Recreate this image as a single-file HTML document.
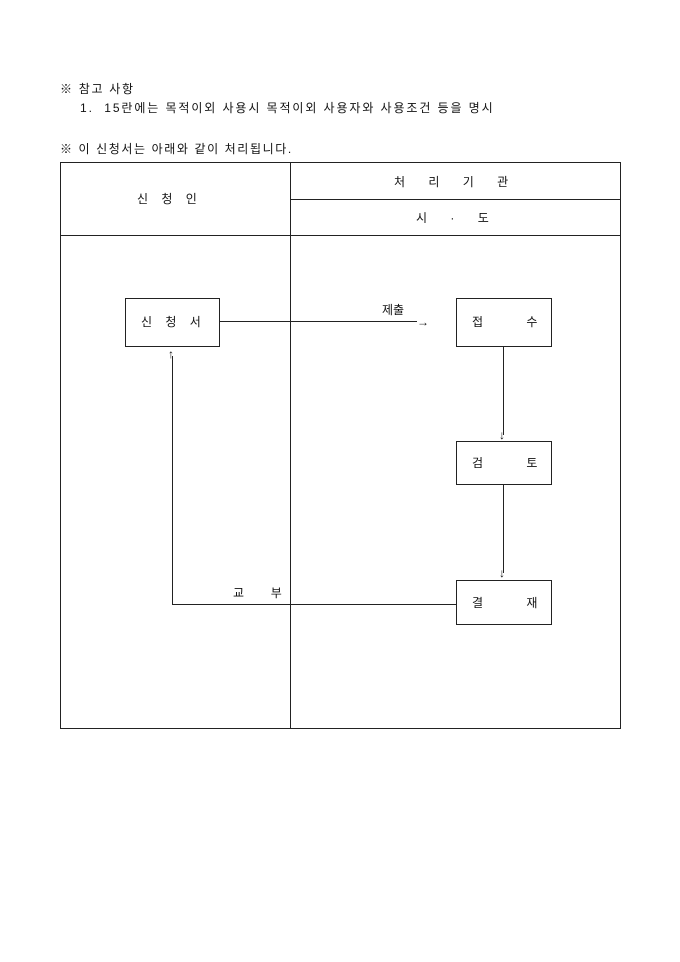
<!DOCTYPE html>
<html><head><meta charset="utf-8"><style>
body{margin:0;background:#fff;width:680px;height:962px;position:relative;font-family:"Liberation Sans","Noto Sans CJK KR","NanumGothic",sans-serif;font-size:12px;color:#111}
.t{position:absolute;white-space:pre;line-height:14px}
.l{position:absolute;background:#222}
.b{position:absolute;border:1px solid #222;box-sizing:border-box}
</style></head><body>
<div class="t" style="left:60px;top:82px;letter-spacing:1.7px">※ 참고 사항</div>
<div class="t" style="left:80px;top:101px;letter-spacing:1.9px">1.  15란에는 목적이외 사용시 목적이외 사용자와 사용조건 등을 명시</div>
<div class="t" style="left:60px;top:142px;letter-spacing:1.6px">※ 이 신청서는 아래와 같이 처리됩니다.</div>

<div class="b" style="left:60px;top:162px;width:561px;height:567px"></div>
<div class="l" style="left:290px;top:162px;width:1px;height:567px"></div>
<div class="l" style="left:290px;top:199px;width:331px;height:1px"></div>
<div class="l" style="left:60px;top:235px;width:561px;height:1px"></div>
<div class="t" style="left:137px;top:192px">신    청    인</div>
<div class="t" style="left:394px;top:175px">처       리       기       관</div>
<div class="t" style="left:416px;top:211px">시       ·       도</div>

<div class="b" style="left:125px;top:298px;width:95px;height:49px"></div>
<div class="t" style="left:141px;top:315px">신    청    서</div>
<div class="b" style="left:456px;top:298px;width:96px;height:49px"></div>
<div class="t" style="left:472px;top:315px">접             수</div>
<div class="b" style="left:456px;top:441px;width:96px;height:44px"></div>
<div class="t" style="left:472px;top:456px">검             토</div>
<div class="b" style="left:456px;top:580px;width:96px;height:45px"></div>
<div class="t" style="left:472px;top:596px">결             재</div>

<div class="l" style="left:219px;top:321px;width:198px;height:1px"></div>
<div class="t" style="left:417px;top:315px">→</div>
<div class="t" style="left:382px;top:303px">제출</div>
<div class="l" style="left:503px;top:347px;width:1px;height:88px"></div>
<div class="t" style="left:499px;top:428px">↓</div>
<div class="l" style="left:503px;top:485px;width:1px;height:88px"></div>
<div class="t" style="left:499px;top:566px">↓</div>
<div class="l" style="left:172px;top:604px;width:284px;height:1px"></div>
<div class="l" style="left:172px;top:356px;width:1px;height:249px"></div>
<div class="t" style="left:168px;top:347px">↑</div>
<div class="t" style="left:233px;top:586px">교        부</div>
</body></html>
